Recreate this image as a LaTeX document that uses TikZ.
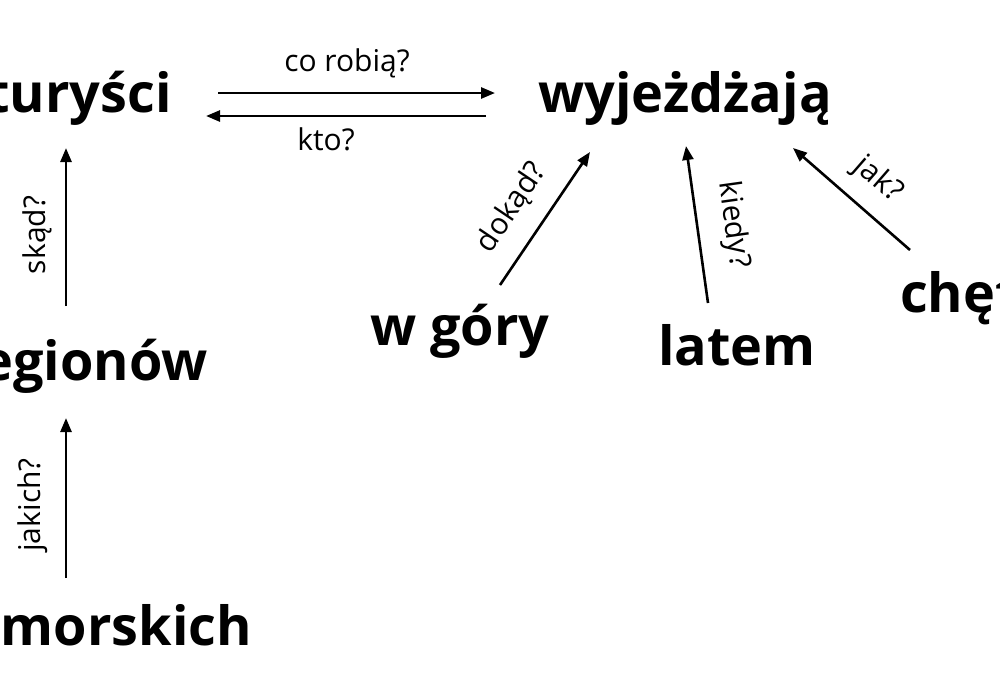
\documentclass[tikz,border=0pt]{standalone}
\usepackage{fontspec}
\setmainfont{Open Sans}
\usetikzlibrary{arrows.meta}
\begin{document}
\begin{tikzpicture}[x=1pt,y=-1pt,
  word/.style={font=\fontsize{54}{60}\selectfont\bfseries,inner sep=0pt},
  lab/.style={font=\fontsize{30}{32}\selectfont,inner sep=0pt},
  conn/.style={line width=2.6pt,-{Triangle[length=14pt,width=11pt]}}]
\path[use as bounding box,clip] (0,0) rectangle (1000,688);
\fill[white] (0,0) rectangle (1000,688);
\node[word,anchor=base east] (tur) at (172,112) {turyści};
\node[word,anchor=base west] (wyj) at (538,112) {wyjeżdżają};
\node[word,anchor=base east] (reg) at (208,380) {regionów};
\node[word,anchor=base east] (nad) at (252,645) {nadmorskich};
\node[word,anchor=base west] (gor) at (370,345) {w góry};
\node[word,anchor=base west] (lat) at (658,365) {latem};
\node[word,anchor=base west] (che) at (900,312) {chętnie};
\coordinate (a1) at (218,93); \coordinate (a2) at (495,93);
\coordinate (b1) at (486,116); \coordinate (b2) at (206,116);
\coordinate (c1) at (66,306); \coordinate (c2) at (66,148);
\coordinate (d1) at (66,578); \coordinate (d2) at (66,418);
\coordinate (e1) at (500,285); \coordinate (e2) at (590,152);
\coordinate (f1) at (708,303); \coordinate (f2) at (686,146);
\coordinate (g1) at (910,250); \coordinate (g2) at (793,148);
\draw[conn] (a1) -- (a2);
\draw[conn] (b1) -- (b2);
\draw[conn] (c1) -- (c2);
\draw[conn] (d1) -- (d2);
\draw[conn] (e1) -- (e2);
\draw[conn] (f1) -- (f2);
\draw[conn] (g1) -- (g2);
\node[lab] (l1) at (347,63) {co robią?};
\node[lab] (l2) at (326,139) {kto?};
\node[lab,rotate=90] (l3) at (37,235) {skąd?};
\node[lab,rotate=90] (l4) at (33,505) {jakich?};
\node[lab,rotate=56] (l5) at (512,208) {dokąd?};
\node[lab,rotate=-82] (l6) at (733,225) {kiedy?};
\node[lab,rotate=-41] (l7) at (878,180) {jak?};
\end{tikzpicture}
\end{document}
